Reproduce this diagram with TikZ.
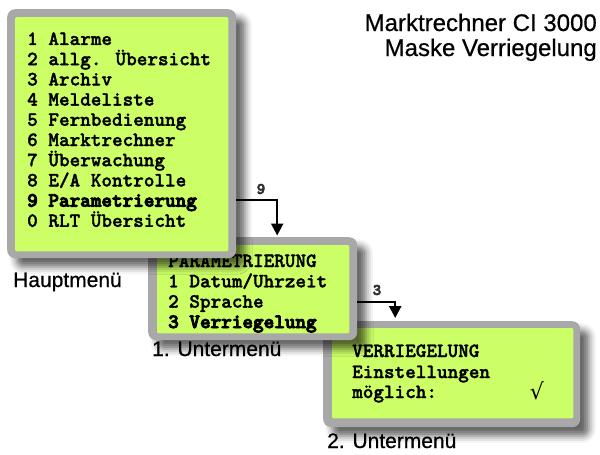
\documentclass[tikz,border=0pt]{standalone}
\usepackage{fontspec}
\setmainfont{Liberation Sans}
\newfontfamily\capfont{Liberation Sans}[FakeBold=0.6]
\newfontfamily\tickfont{DejaVu Serif}
\newfontfamily\lcd{lmmonolt10-bold.otf}[FakeBold=1.6]
\newfontfamily\lcdheavy{lmmonolt10-bold.otf}[FakeBold=4.5]
\usetikzlibrary{arrows.meta,shadows.blur}
\definecolor{lcdgreen}{RGB}{204,255,102}
\definecolor{framegray}{RGB}{168,168,168}
\definecolor{labelgray}{RGB}{50,50,50}

\begin{document}
\begin{tikzpicture}[x=1pt,y=-1pt,
  lcdframe/.style={fill=framegray, rounded corners=8pt, inner sep=0pt, draw=none,
    anchor=north west,
    blur shadow={shadow xshift=9pt, shadow yshift=-9pt, shadow blur radius=7pt, shadow opacity=60}},
  lcdface/.style={fill=lcdgreen, rounded corners=2pt},
  lcdtext/.style={anchor=base west, inner sep=0pt, font=\lcd\fontsize{20.2pt}{20.2pt}\selectfont},
  lcdstrong/.style={anchor=base west, inner sep=0pt, font=\lcdheavy\fontsize{20.2pt}{20.2pt}\selectfont},
  caption/.style={anchor=base west, inner sep=0pt, font=\capfont\fontsize{21pt}{21pt}\selectfont},
  heading/.style={anchor=base east, inner sep=0pt, font=\capfont\fontsize{24pt}{24pt}\selectfont},
  keylabel/.style={inner sep=0pt, text=labelgray, font=\lcdheavy\fontsize{16pt}{16pt}\selectfont},
  flow/.style={line width=2.5pt, -{Triangle[length=12pt,width=12pt]}}]

\useasboundingbox (0,0) rectangle (600,455);

% --- second submenu (lowest layer) ---
\node[lcdframe, minimum width=257pt, minimum height=106pt] (sub2) at (323,321) {};
\fill[lcdface] ([shift={(9,7)}]sub2.north west) rectangle ([shift={(-7,-9)}]sub2.south east);
\node[lcdtext] (v1) at (352,357) {VERRIEGELUNG};
\node[lcdtext] (v2) at (352,378) {Einstellungen};
\node[lcdtext] (v3) at (352,398) {möglich:};
\node[inner sep=0pt, font=\tickfont\fontsize{22pt}{22pt}\selectfont] (tick) at (537,391) {√};

% --- first submenu ---
\node[lcdframe, minimum width=209pt, minimum height=103pt] (sub1) at (148,237) {};
\fill[lcdface] ([shift={(9,8)}]sub1.north west) rectangle ([shift={(-8,-7)}]sub1.south east);
\node[lcdtext] (p0) at (168,267) {PARAMETRIERUNG};
\node[lcdtext] (p1) at (168,287.3) {1 Datum/Uhrzeit};
\node[lcdtext] (p2) at (168,307.6) {2 Sprache};
\node[lcdstrong] (p3) at (168,328) {3 Verriegelung};

% --- main menu (top layer) ---
\node[lcdframe, minimum width=229pt, minimum height=249pt] (main) at (7,9) {};
\fill[lcdface] ([shift={(8,8)}]main.north west) rectangle ([shift={(-8,-7)}]main.south east);
\node[lcdtext] (m1) at (27,45.0)  {1 Alarme};
\node[lcdtext] (m2) at (27,65.2)  {2 allg. Übersicht};
\node[lcdtext] (m3) at (27,85.4)  {3 Archiv};
\node[lcdtext] (m4) at (27,105.6) {4 Meldeliste};
\node[lcdtext] (m5) at (27,125.8) {5 Fernbedienung};
\node[lcdtext] (m6) at (27,146.0) {6 Marktrechner};
\node[lcdtext] (m7) at (27,166.2) {7 Überwachung};
\node[lcdtext] (m8) at (27,186.4) {8 E/A Kontrolle};
\node[lcdstrong] (m9) at (27,206.6) {9 Parametrierung};
\node[lcdtext] (m0) at (27,226.8) {0 RLT Übersicht};

% --- key presses leading to the next screen ---
\draw[flow, shorten >=1.5pt] ([yshift=-66.5pt]main.east) -| ([xshift=24.5pt]sub1.north);
\node[keylabel] (k9) at (261,189) {9};
\draw[flow, shorten >=3pt] ([yshift=-13.5pt]sub1.east) -| ([xshift=-56.5pt]sub2.north);
\node[keylabel] (k3) at (377,290) {3};

% --- captions ---
\node[caption] (c0) at (13,287) {Hauptmenü};
\node[caption] (c1) at (152,356) {1. Untermenü};
\node[caption] (c2) at (327,448) {2. Untermenü};
\node[heading] (t1) at (597,31) {Marktrechner CI 3000};
\node[heading] (t2) at (597,56) {Maske Verriegelung};
\end{tikzpicture}
\end{document}
